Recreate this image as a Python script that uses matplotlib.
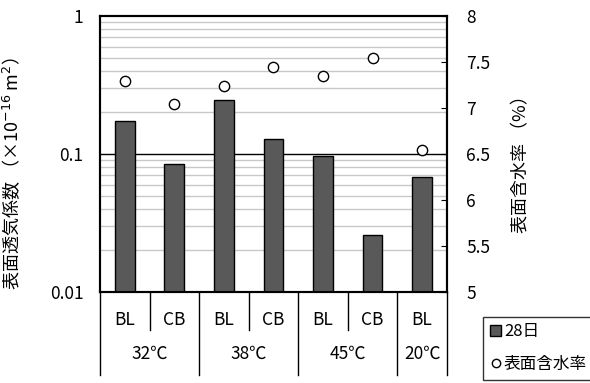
import matplotlib.pyplot as plt
from matplotlib.lines import Line2D
from matplotlib.patches import Patch
import numpy as np

plt.rcParams['font.family'] = ['Noto Sans CJK JP', 'DejaVu Sans']

# データ
specimens = ['BL', 'CB', 'BL', 'CB', 'BL', 'CB', 'BL']
temps = ['32℃', '38℃', '45℃', '20℃']
group_sizes = [2, 2, 2, 1]
kt_28d = [0.173, 0.085, 0.246, 0.128, 0.097, 0.026, 0.068]
moisture = [7.29, 7.04, 7.24, 7.45, 7.35, 7.54, 6.54]

fs = 12.5
fig = plt.figure(figsize=(5.9, 3.83), dpi=100)
ax = fig.add_axes([0.1695, 0.2376, 0.588, 0.7206])
x = np.arange(len(specimens))

ax.set_yscale('log')
ax.set_ylim(0.01, 1)
ax.set_xlim(-0.5, len(specimens) - 0.5)
ax.bar(x, kt_28d, width=0.4, color='#595959', edgecolor='black', linewidth=1, zorder=3)

# 補助目盛線
ax.yaxis.grid(True, which='minor', color='#c8c8c8', linewidth=1, zorder=0)
ax.axhline(0.1, color='black', linewidth=1, zorder=1)
ax.set_yticks([0.01, 0.1, 1])
ax.set_yticklabels(['0.01', '0.1', '1'], fontsize=fs)
ax.tick_params(axis='y', which='both', length=0, pad=12)
ax.set_xticks([])
for s in ax.spines.values():
    s.set_linewidth(1.5)
ax.set_ylabel('表面透気係数 （×10$^{-16}$ m$^2$）', fontsize=13)
ax.yaxis.set_label_coords(-0.225, 0.43)

ax2 = ax.twinx()
ax2.set_ylim(5, 8)
ax2.set_yticks([5, 5.5, 6, 6.5, 7, 7.5, 8])
ax2.set_yticklabels(['5', '5.5', '6', '6.5', '7', '7.5', '8'], fontsize=fs)
ax2.tick_params(axis='y', direction='in', length=4, pad=14)
ax2.scatter(x, moisture, s=55, facecolor='white', edgecolor='black', linewidth=1, zorder=4)
ax2.set_ylabel('表面含水率 （%）', fontsize=13, rotation=90)
ax2.yaxis.set_label_coords(1.187, 0.48)
for s in ax2.spines.values():
    s.set_linewidth(1.5)

# 下部の表形式ラベル
tr = ax.get_xaxis_transform()
inner = -0.138
outer = -0.30
for i, sp in enumerate(specimens):
    ax.text(i, -0.10, sp, transform=tr, ha='center', va='center', fontsize=fs)
edges = [-0.5]
for n in group_sizes:
    edges.append(edges[-1] + n)
for e in edges:
    ax.add_line(Line2D([e, e], [0, outer], transform=tr, color='black', linewidth=1, clip_on=False))
for i in range(len(specimens) - 1):
    xe = i + 0.5
    if xe not in edges:
        ax.add_line(Line2D([xe, xe], [0, inner], transform=tr, color='black', linewidth=1, clip_on=False))
for k, t in enumerate(temps):
    c = (edges[k] + edges[k + 1]) / 2
    ax.text(c, -0.225, t, transform=tr, ha='center', va='center', fontsize=fs)

handles = [Patch(facecolor='#595959', edgecolor='black', label='28日'),
           Line2D([], [], marker='o', linestyle='none', markerfacecolor='white',
                  markeredgecolor='black', markersize=6, label='表面含水率')]
leg = fig.legend(handles=handles, loc='lower left', bbox_to_anchor=(0.813, 0.0),
                 fontsize=12, frameon=True, fancybox=False, edgecolor='black',
                 handlelength=0.7, handletextpad=0.15, borderpad=0.4, labelspacing=0.95,
                 borderaxespad=0.2)
leg.get_frame().set_linewidth(1)

fig.savefig('out.png', dpi=100)
